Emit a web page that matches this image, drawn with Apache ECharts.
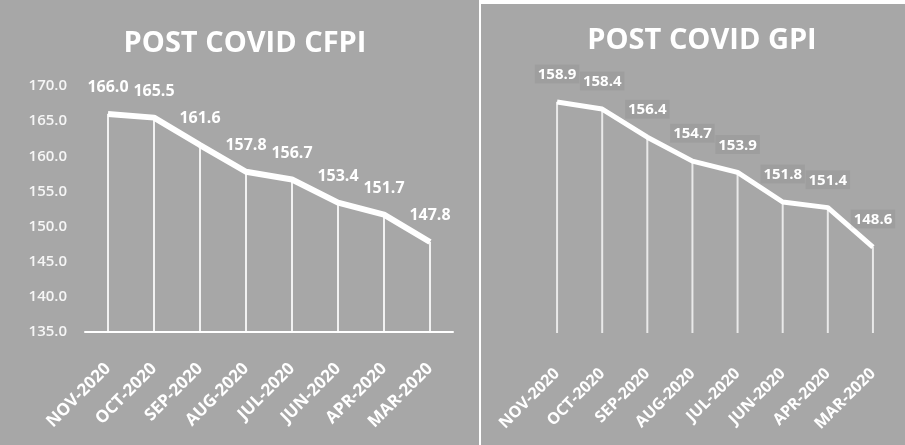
<!DOCTYPE html>
<html>
<head>
<meta charset="utf-8">
<script src="https://cdn.jsdelivr.net/npm/echarts@6/dist/echarts.min.js"></script>
<style>
  html, body { margin: 0; padding: 0; background: #ffffff; }
  #chart { width: 905px; height: 445px; }
</style>
</head>
<body>
<div id="chart"></div>
<script>
// Month categories shared by both panels
const months = ['NOV-2020', 'OCT-2020', 'SEP-2020', 'AUG-2020', 'JUL-2020', 'JUN-2020', 'APR-2020', 'MAR-2020'];

// Consumer food price index after COVID
const cfpiValues = [166.0, 165.5, 161.6, 157.8, 156.7, 153.4, 151.7, 147.8];

// General price index after COVID
const gpiValues = [158.9, 158.4, 156.4, 154.7, 153.9, 151.8, 151.4, 148.6];

// Left axis ticks
const cfpiTicks = { min: 135, max: 170, step: 5 };

const PANEL = '#a7a7a7';
const FONT = '"Open Sans", "Noto Sans", sans-serif';

const chart = echarts.init(document.getElementById('chart'), null, { renderer: 'canvas' });

function valueLabel(dist, size) {
  return {
    show: true,
    position: 'top',
    distance: dist,
    color: '#ffffff',
    fontFamily: FONT,
    fontWeight: 'bold',
    fontSize: size,
    formatter: p => p.value.toFixed(1)
  };
}

function categoryAxis(gridIndex, showLine, fontSize, margin) {
  return {
    type: 'category',
    gridIndex: gridIndex,
    data: months,
    boundaryGap: true,
    axisLine: { show: showLine, lineStyle: { color: '#ffffff', width: 2 } },
    axisTick: { show: false },
    splitLine: { show: false },
    axisLabel: {
      rotate: 45,
      margin: margin,
      color: '#ffffff',
      fontFamily: FONT,
      fontWeight: 'bold',
      fontSize: fontSize,
      interval: 0
    }
  };
}

function indexLine(gridIndex, values, width, label) {
  return {
    type: 'line', xAxisIndex: gridIndex, yAxisIndex: gridIndex, data: values,
    showSymbol: true, symbol: 'circle', symbolSize: 1,
    itemStyle: { color: '#ffffff' },
    lineStyle: { color: '#ffffff', width: width },
    label: label, z: 3
  };
}

function dropLines(gridIndex, values, alpha) {
  return {
    type: 'bar', xAxisIndex: gridIndex, yAxisIndex: gridIndex, data: values,
    barWidth: 2, itemStyle: { color: 'rgba(255,255,255,' + alpha + ')' }, z: 1
  };
}

chart.setOption({
  animation: false,
  backgroundColor: '#ffffff',
  graphic: [
    { type: 'rect', z: -10, shape: { x: 0, y: 0, width: 479, height: 445 }, style: { fill: PANEL } },
    { type: 'rect', z: -10, shape: { x: 481, y: 4, width: 424, height: 441 }, style: { fill: PANEL } }
  ],
  title: [
    {
      text: 'POST COVID CFPI',
      left: 240, top: 24, textAlign: 'center',
      textStyle: { color: '#ffffff', fontFamily: FONT, fontWeight: 'bold', fontSize: 29 }
    },
    {
      text: 'POST COVID GPI',
      left: 697, top: 21, textAlign: 'center',
      textStyle: { color: '#ffffff', fontFamily: FONT, fontWeight: 'bold', fontSize: 29 }
    }
  ],
  grid: [
    { left: 85, right: 452, top: 86, bottom: 113, containLabel: false },
    { left: 534.5, right: 9.5, top: 86.5, bottom: 112, containLabel: false }
  ],
  xAxis: [
    categoryAxis(0, true, 17, 34),
    categoryAxis(1, false, 16, 38)
  ],
  yAxis: [
    {
      type: 'value',
      gridIndex: 0,
      min: cfpiTicks.min,
      max: cfpiTicks.max,
      interval: cfpiTicks.step,
      axisLine: { show: false },
      axisTick: { show: false },
      splitLine: { show: false },
      axisLabel: {
        margin: 18,
        color: '#f6f6f6',
        fontFamily: FONT,
        fontWeight: 600,
        fontSize: 15,
        formatter: v => v.toFixed(1)
      }
    },
    {
      type: 'value',
      gridIndex: 1,
      min: 142.5,
      max: 160,
      show: false,
      splitLine: { show: false }
    }
  ],
  series: [
    dropLines(0, cfpiValues, 0.85),
    indexLine(0, cfpiValues, 6, valueLabel(18, 16)),
    dropLines(1, gpiValues, 0.75),
    indexLine(1, gpiValues, 5, Object.assign(valueLabel(18, 15), {
      backgroundColor: 'rgba(0,0,0,0.05)',
      padding: [3, 3, 1, 3]
    }))
  ]
});
</script>
</body>
</html>
